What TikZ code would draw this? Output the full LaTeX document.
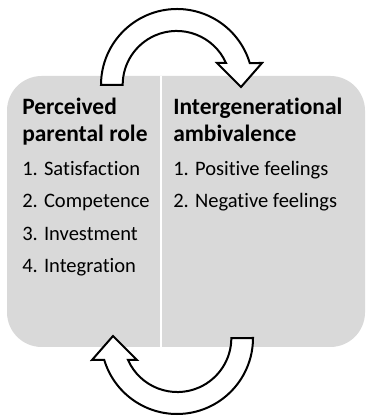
\documentclass[tikz,border=0pt]{standalone}
\usepackage{fontspec}
\setmainfont[Ligatures=NoCommon]{Carlito}
\usepackage{xcolor}
\usepackage{tikz}
\definecolor{boxgray}{HTML}{D9D9D9}

\begin{document}
\begin{tikzpicture}[x=0.75pt,y=0.75pt,
  head/.style={anchor=base west,inner sep=0pt,font=\fontsize{17.6}{20}\selectfont\bfseries},
  item/.style={anchor=base west,inner sep=0pt,font=\fontsize{15.4}{18}\selectfont},
  bigarrow/.style={draw=black,fill=white,line width=1.5pt,line join=miter}]
\useasboundingbox (0,0) rectangle (366,416);

\fill[boxgray,rounded corners=26] (7,69) rectangle (365,340);
\draw[white,line width=1.5pt] (161,69)--(161,340);

\draw[bigarrow] (101,331) arc[start angle=180,end angle=16.8,radius=76]
  -- (262,353) -- (241,329) -- (217,353) -- (226,353)
  arc[start angle=24,end angle=180,radius=54] -- cycle;
\draw[bigarrow,rotate around={180:(177,204.5)}] (101,331) arc[start angle=180,end angle=16.8,radius=76]
  -- (262,353) -- (241,329) -- (217,353) -- (226,353)
  arc[start angle=24,end angle=180,radius=54] -- cycle;

\node[head] (perc) at (22,301) {Perceived};
\node[head] (role) at (22,274) {parental role};
\node[item] (sat) at (22,240) {1. Satisfaction};
\node[item] (comp) at (22,208) {2. Competence};
\node[item] (inv) at (22,175) {3. Investment};
\node[item] (integ) at (22,143) {4. Integration};

\node[head] (intgen) at (173,301) {Intergenerational};
\node[head] (ambiv) at (173,274) {ambivalence};
\node[item] (pos) at (173,240) {1. Positive feelings};
\node[item] (neg) at (173,208) {2. Negative feelings};

\end{tikzpicture}
\end{document}
